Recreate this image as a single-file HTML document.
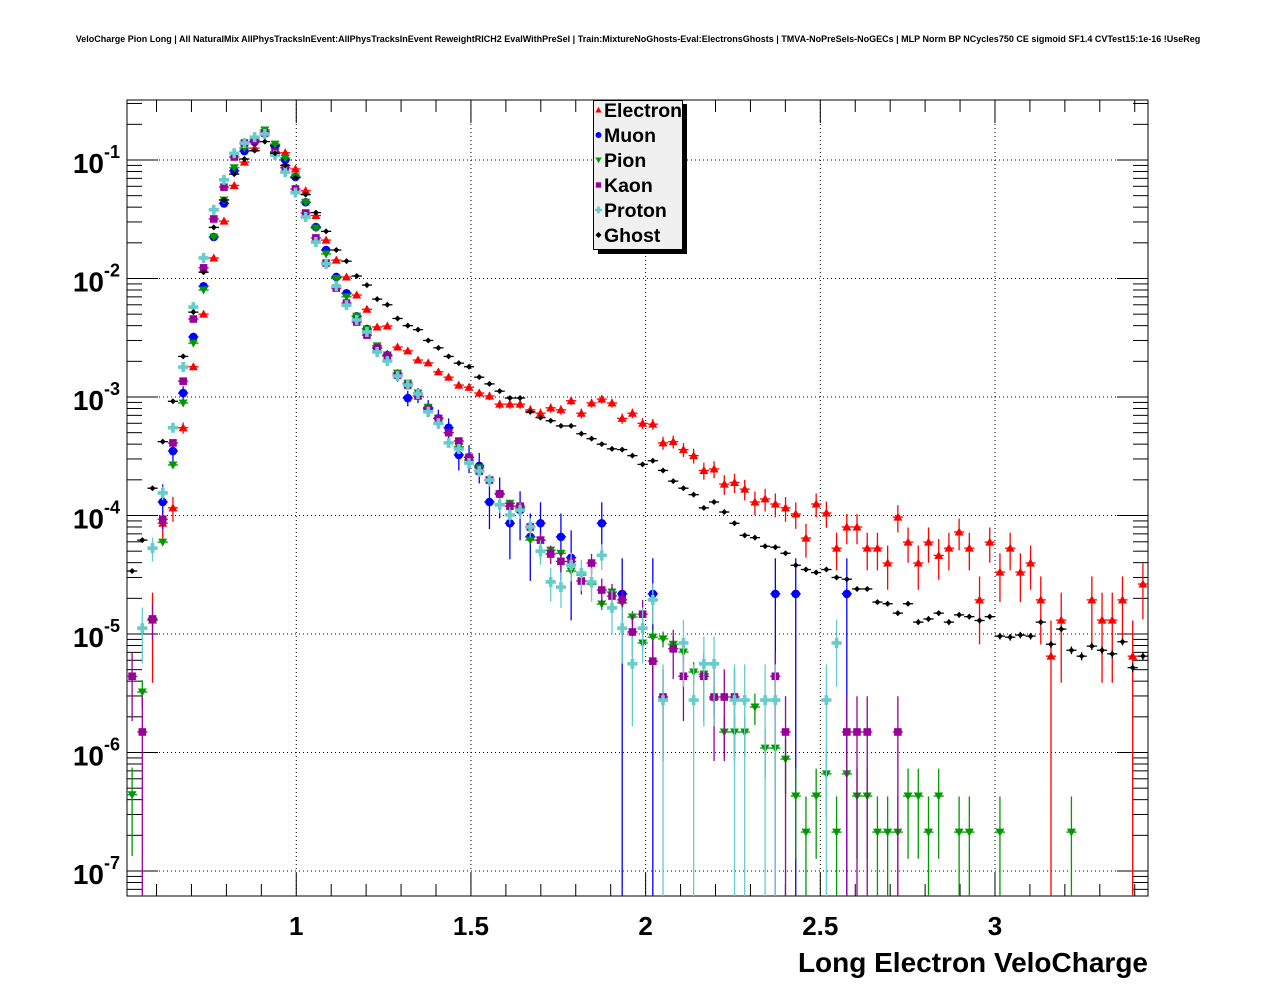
<!DOCTYPE html>
<html><head><meta charset="utf-8"><title>VeloCharge</title>
<style>
html,body{margin:0;padding:0;background:#fff;}
svg{display:block;font-family:"Liberation Sans",Arial,sans-serif;}
</style></head>
<body>
<svg id="chart" width="1276" height="996" viewBox="0 0 1276 996" xmlns="http://www.w3.org/2000/svg">
<rect x="0" y="0" width="1276" height="996" fill="#fff"/>
<text x="638" y="42" text-anchor="middle" font-size="9.0" font-weight="bold">VeloCharge Pion Long | All NaturalMix AllPhysTracksInEvent:AllPhysTracksInEvent ReweightRICH2 EvalWithPreSel | Train:MixtureNoGhosts-Eval:ElectronsGhosts | TMVA-NoPreSels-NoGECs | MLP Norm BP NCycles750 CE sigmoid SF1.4 CVTest15:1e-16 !UseReg</text>
<rect x="127" y="100" width="1021" height="796" fill="#fff" stroke="#000" stroke-width="1"/>
<g id="grid"></g>
<g id="axes"></g>
<g id="series"></g>
<text x="1148" y="972" text-anchor="end" font-size="28" font-weight="bold">Long Electron VeloCharge</text>
<g>
  <rect x="598" y="104" width="89" height="150" fill="#000"/>
  <rect x="593.5" y="100.5" width="89" height="149" fill="#f0f0f0" stroke="#000" stroke-width="1"/>
  <g id="legend-items"></g>
</g>
</svg>
<script>
// ---- data (100 bins) ----
const xMin = 0.5155, xMax = 3.438, nBins = 100;
const xTicks = [1, 1.5, 2, 2.5, 3];
const xTickLabels = ["1", "1.5", "2", "2.5", "3"];
const yDecades = [-1, -2, -3, -4, -5, -6, -7];
const seriesNames = ["Electron", "Muon", "Pion", "Kaon", "Proton", "Ghost"];
const electron = [0,0,1.31e-5,8.6e-5,1.16e-4,5.5e-4,1.8e-3,5.0e-3,1.49e-2,3.05e-2,
6.1e-2,9.6e-2,0.126,0.172,0.134,0.115,0.084,0.055,0.034,2.11e-2,
1.43e-2,1.03e-2,7.25e-3,5.5e-3,3.9e-3,3.97e-3,2.64e-3,2.45e-3,2.05e-3,1.94e-3,
1.63e-3,1.47e-3,1.26e-3,1.21e-3,1.08e-3,1.02e-3,8.7e-4,8.7e-4,8.7e-4,7.8e-4,
7.3e-4,8.1e-4,7.8e-4,9.3e-4,7.3e-4,8.9e-4,9.6e-4,8.9e-4,6.6e-4,7.3e-4,
6.0e-4,5.9e-4,4.1e-4,4.2e-4,3.6e-4,3.2e-4,2.4e-4,2.47e-4,1.84e-4,1.9e-4,
1.67e-4,1.3e-4,1.38e-4,1.25e-4,1.16e-4,1.03e-4,6.45e-5,1.25e-4,1.05e-4,5.3e-5,
8.0e-5,8.0e-5,5.3e-5,5.3e-5,3.97e-5,9.7e-5,5.96e-5,3.97e-5,5.96e-5,4.6e-5,
5.3e-5,7.25e-5,5.3e-5,1.94e-5,5.96e-5,3.33e-5,5.3e-5,3.33e-5,3.97e-5,1.94e-5,
6.5e-6,1.31e-5,0,0,1.94e-5,1.31e-5,1.31e-5,1.94e-5,6.5e-6,2.64e-5];
const muon = [0,0,0,1.3e-4,3.5e-4,1.08e-3,3.21e-3,8.6e-3,2.24e-2,4.3e-2,
8.1e-2,0.119,0.142,0.169,0.131,0.100,7.2e-2,4.4e-2,2.72e-2,1.74e-2,
1.03e-2,7.5e-3,4.8e-3,3.75e-3,2.59e-3,2.26e-3,1.53e-3,9.8e-4,1.04e-3,8.1e-4,
6.6e-4,5.5e-4,3.24e-4,3.1e-4,2.62e-4,1.3e-4,1.52e-4,8.6e-5,1.11e-4,6.6e-5,
8.6e-5,0,6.6e-5,4.4e-5,0,0,8.6e-5,0,2.18e-5,0,
0,2.18e-5,0,0,0,0,0,0,0,0,
0,0,0,2.18e-5,0,2.18e-5,0,0,0,0,
2.18e-5,0,0,0,0,0,0,0,0,0,
0,0,0,0,0,0,0,0,0,0,
0,0,0,0,0,0,0,0,0,0];
const pion = [4.4e-7,3.24e-6,1.3e-5,5.96e-5,2.67e-4,8.9e-4,2.85e-3,8.0e-3,2.24e-2,4.6e-2,
8.6e-2,0.126,0.150,0.179,0.136,0.104,7.2e-2,4.4e-2,2.66e-2,1.61e-2,
1.0e-2,7.0e-3,4.8e-3,3.75e-3,2.7e-3,2.26e-3,1.59e-3,1.31e-3,1.08e-3,8.2e-4,
6.6e-4,5.0e-4,3.8e-4,2.94e-4,2.52e-4,1.99e-4,1.52e-4,1.27e-4,1.16e-4,6.2e-5,
6.2e-5,5.1e-5,4.8e-5,3.4e-5,3.15e-5,2.64e-5,1.79e-5,2.26e-5,1.83e-5,1.39e-5,
8.4e-6,9.4e-6,9.1e-6,8.2e-6,7.05e-6,4.78e-6,4.6e-6,2.83e-6,1.49e-6,1.49e-6,
1.49e-6,2.42e-6,1.09e-6,1.09e-6,8.8e-7,4.29e-7,2.13e-7,4.29e-7,6.6e-7,2.13e-7,
6.6e-7,4.29e-7,4.29e-7,2.13e-7,2.13e-7,2.13e-7,4.29e-7,4.29e-7,2.13e-7,4.29e-7,
0,2.13e-7,2.13e-7,0,0,2.13e-7,0,0,0,0,
0,0,2.13e-7,0,0,0,0,0,0,0];
const kaon = [4.4e-6,1.49e-6,1.34e-5,9.3e-5,4.1e-4,1.36e-3,4.55e-3,1.23e-2,3.18e-2,5.9e-2,
0.106,0.139,0.145,0.169,0.117,8.6e-2,5.7e-2,3.57e-2,2.2e-2,1.35e-2,
8.3e-3,6.2e-3,4.29e-3,3.33e-3,2.59e-3,2.22e-3,1.53e-3,1.26e-3,1.02e-3,7.9e-4,
6.6e-4,5.0e-4,4.25e-4,3.1e-4,2.37e-4,1.99e-4,1.52e-4,1.2e-4,1.2e-4,8.0e-5,
6.2e-5,4.73e-5,4.1e-5,4.1e-5,2.8e-5,3.97e-5,2.35e-5,2.09e-5,1.94e-5,1.04e-5,
1.47e-5,5.9e-6,2.94e-6,7.5e-6,4.4e-6,0,4.4e-6,2.94e-6,2.94e-6,2.94e-6,
0,0,0,4.4e-6,1.49e-6,0,0,0,0,0,
1.49e-6,1.49e-6,1.49e-6,0,0,1.49e-6,0,0,0,0,
0,0,0,0,0,0,0,0,0,0,
0,0,0,0,0,0,0,0,0,0];
const proton = [0,1.12e-5,5.3e-5,1.55e-4,5.5e-4,1.79e-3,5.74e-3,1.49e-2,3.8e-2,6.8e-2,
0.114,0.139,0.156,0.166,0.110,7.9e-2,5.3e-2,3.3e-2,2.03e-2,1.33e-2,
8.6e-3,5.96e-3,4.47e-3,3.54e-3,2.4e-3,2.01e-3,1.5e-3,1.26e-3,1.06e-3,7.5e-4,
6.0e-4,4.1e-4,3.64e-4,2.77e-4,2.37e-4,1.99e-4,1.23e-4,1.01e-4,1.11e-4,8.0e-5,
5.0e-5,2.75e-5,2.49e-5,3.82e-5,3.27e-5,2.75e-5,4.6e-5,1.66e-5,1.12e-5,5.6e-6,
1.12e-5,1.94e-5,2.77e-6,0,8.4e-6,2.77e-6,5.6e-6,5.6e-6,0,2.77e-6,
2.77e-6,0,2.77e-6,2.77e-6,0,0,0,0,2.77e-6,8.4e-6,
0,0,0,0,0,0,0,0,0,0,
0,0,0,0,0,0,0,0,0,0,
0,0,0,0,0,0,0,0,0,0];
const ghost = [3.4e-5,6.2e-5,1.7e-4,4.2e-4,9.2e-4,2.2e-3,5.2e-3,1.13e-2,2.7e-2,4.6e-2,
7.6e-2,0.102,0.12,0.143,0.114,0.09,0.071,0.051,0.036,0.025,
0.0174,0.014,0.0105,8.8e-3,6.7e-3,6.0e-3,4.6e-3,4.0e-3,3.7e-3,3.0e-3,
2.6e-3,2.2e-3,1.93e-3,1.8e-3,1.47e-3,1.29e-3,1.12e-3,9.8e-4,9.8e-4,7.5e-4,
6.7e-4,6.3e-4,5.7e-4,5.7e-4,4.9e-4,4.45e-4,4.0e-4,3.65e-4,3.6e-4,3.2e-4,
2.7e-4,2.9e-4,2.4e-4,1.95e-4,1.7e-4,1.5e-4,1.16e-4,1.3e-4,1.07e-4,8.6e-5,
6.8e-5,6.5e-5,5.5e-5,5.4e-5,4.8e-5,3.8e-5,3.5e-5,3.3e-5,3.5e-5,3.0e-5,
2.9e-5,2.4e-5,2.4e-5,1.86e-5,1.8e-5,1.5e-5,1.8e-5,1.26e-5,1.34e-5,1.5e-5,
1.26e-5,1.45e-5,1.4e-5,1.3e-5,1.4e-5,9.6e-6,9.4e-6,9.8e-6,9.6e-6,1.26e-5,
8.2e-6,1.1e-5,7.3e-6,6.5e-6,7.9e-6,7.3e-6,6.8e-6,8.6e-6,5.2e-6,6.5e-6];
// weight per entry (sets statistical error size)
const entryWeights = [6.5e-6, 2.18e-5, 2.13e-7, 1.49e-6, 2.77e-6, 4e-8];

// ---- geometry ----
const L = 127, R = 1148, T = 100, B = 896;
const logTop = -1 + 60/118.5, logBot = -7 - 25/118.5;
const NS = "http://www.w3.org/2000/svg";
function xs(v){ return L + (v - xMin) / (xMax - xMin) * (R - L); }
function ys(v){ const lg = Math.log10(v); return T + (logTop - lg) / (logTop - logBot) * (B - T); }
function mk(tag, attrs, parent){ const e = document.createElementNS(NS, tag); for (const k in attrs) e.setAttribute(k, attrs[k]); parent.appendChild(e); return e; }

const grid = document.getElementById('grid');
const axes = document.getElementById('axes');
// grid lines
xTicks.forEach(function(t){
  const ln = mk('line', {x1: xs(t), x2: xs(t), y1: T, y2: B, stroke: '#000', 'stroke-width': 1, 'stroke-dasharray': '1,3'}, grid);
  
  
});
yDecades.forEach(function(d){
  const ln = mk('line', {x1: L, x2: R, y1: ys(Math.pow(10, d)), y2: ys(Math.pow(10, d)), stroke: '#000', 'stroke-width': 1, 'stroke-dasharray': '1,3'}, grid);
  
  
});
// x ticks (minor every 0.1)
for (let k = 6; k <= 34; k++) {
  const v = k / 10;
  const major = (k % 5 === 0);
  const len = major ? 23 : 12;
  const px = xs(v);
  mk('line', {x1: px, x2: px, y1: B, y2: B - len, stroke: '#000', 'stroke-width': 1}, axes);
  mk('line', {x1: px, x2: px, y1: T, y2: T + len, stroke: '#000', 'stroke-width': 1}, axes);
}
xTicks.forEach(function(t, i){
  const tx = mk('text', {x: xs(t), y: 935, 'text-anchor': 'middle', 'font-size': 26, 'font-weight': 'bold'}, axes);
  tx.textContent = xTickLabels[i];
  
  
});
// y ticks
for (let d = -8; d <= -1; d++) {
  for (let m = 1; m <= 9; m++) {
    const v = m * Math.pow(10, d);
    const py = ys(v);
    if (py < T || py > B) continue;
    const len = (m === 1) ? 31 : 15;
    mk('line', {x1: L, x2: L + len, y1: py, y2: py, stroke: '#000', 'stroke-width': 1}, axes);
    mk('line', {x1: R, x2: R - len, y1: py, y2: py, stroke: '#000', 'stroke-width': 1}, axes);
  }
}
yDecades.forEach(function(d){
  const py = ys(Math.pow(10, d));
  const tx = mk('text', {x: 104, y: py + 13, 'text-anchor': 'end', 'font-size': 28, 'font-weight': 'bold'}, axes);
  tx.textContent = '10';
  
  
  const ex = mk('text', {x: 104, y: py - 2, 'text-anchor': 'start', 'font-size': 18, 'font-weight': 'bold'}, axes);
  ex.textContent = String(d);
  
  
});

// ---- markers ----
const colors = ['#ff0000', '#0000ff', '#009900', '#990099', '#66cccc', '#000000'];
function marker(kind, cx, cy, col, parent, s){
  s = s || 1;
  if (kind === 0) return mk('polygon', {points: (cx-4.5*s)+','+(cy+3.5*s)+' '+(cx+4.5*s)+','+(cy+3.5*s)+' '+cx+','+(cy-4.5*s), fill: col}, parent);
  if (kind === 1) return mk('circle', {cx: cx, cy: cy, r: 4.3*s, fill: col}, parent);
  if (kind === 2) return mk('polygon', {points: (cx-4.5*s)+','+(cy-3.5*s)+' '+(cx+4.5*s)+','+(cy-3.5*s)+' '+cx+','+(cy+4.5*s), fill: col}, parent);
  if (kind === 3) return mk('rect', {x: cx-3.8*s, y: cy-3.8*s, width: 7.6*s, height: 7.6*s, fill: col}, parent);
  if (kind === 4) return mk('path', {d: 'M'+(cx-5*s)+','+cy+'H'+(cx+5*s)+'M'+cx+','+(cy-5*s)+'V'+(cy+5*s), stroke: col, 'stroke-width': 3.6*s, fill: 'none'}, parent);
  return mk('path', {d: 'M'+(cx-3)+','+cy+'L'+cx+','+(cy-3)+'L'+(cx+3)+','+cy+'L'+cx+','+(cy+3)+'Z', fill: col}, parent);
}
const allSeries = [electron, muon, pion, kaon, proton, ghost];
const seriesKeys = ['electron', 'muon', 'pion', 'kaon', 'proton', 'ghost'];
const sg = document.getElementById('series');
const bw = (xMax - xMin) / nBins;
const drawOrder = [0, 1, 2, 3, 4, 5];
drawOrder.forEach(function(si){
  const data = allSeries[si];
  const col = colors[si];
  const g = mk('g', {}, sg);
  
  
  data.forEach(function(v, i){
    if (!(v > 0)) return;
    const xc = xMin + (i + 0.5) * bw;
    const px = xs(xc), py = ys(v);
    const err = Math.sqrt(v * entryWeights[si]);
    const yHi = Math.max(T, ys(v + err));
    const yLo = (v - err) > 0 ? Math.min(B, ys(v - err)) : B;
    const pg = mk('g', {}, g);
    
    
    mk('line', {x1: px, x2: px, y1: yHi, y2: yLo, stroke: col, 'stroke-width': 1.3}, pg);
    mk('line', {x1: xs(xc - bw/2), x2: xs(xc + bw/2), y1: py, y2: py, stroke: col, 'stroke-width': 1.3}, pg);
    marker(si, px, py, col, pg);
  });
});

// ---- legend ----
const lg = document.getElementById('legend-items');
seriesNames.forEach(function(n, i){
  const y = 110 + i * 25;
  const it = mk('g', {}, lg);
  
  
  marker(i, 598.5, y, colors[i], it, 0.7);
  const t = mk('text', {x: 604, y: y + 7, 'font-size': 19.5, 'font-weight': 'bold'}, it);
  t.textContent = n;
});
</script>
</body></html>
